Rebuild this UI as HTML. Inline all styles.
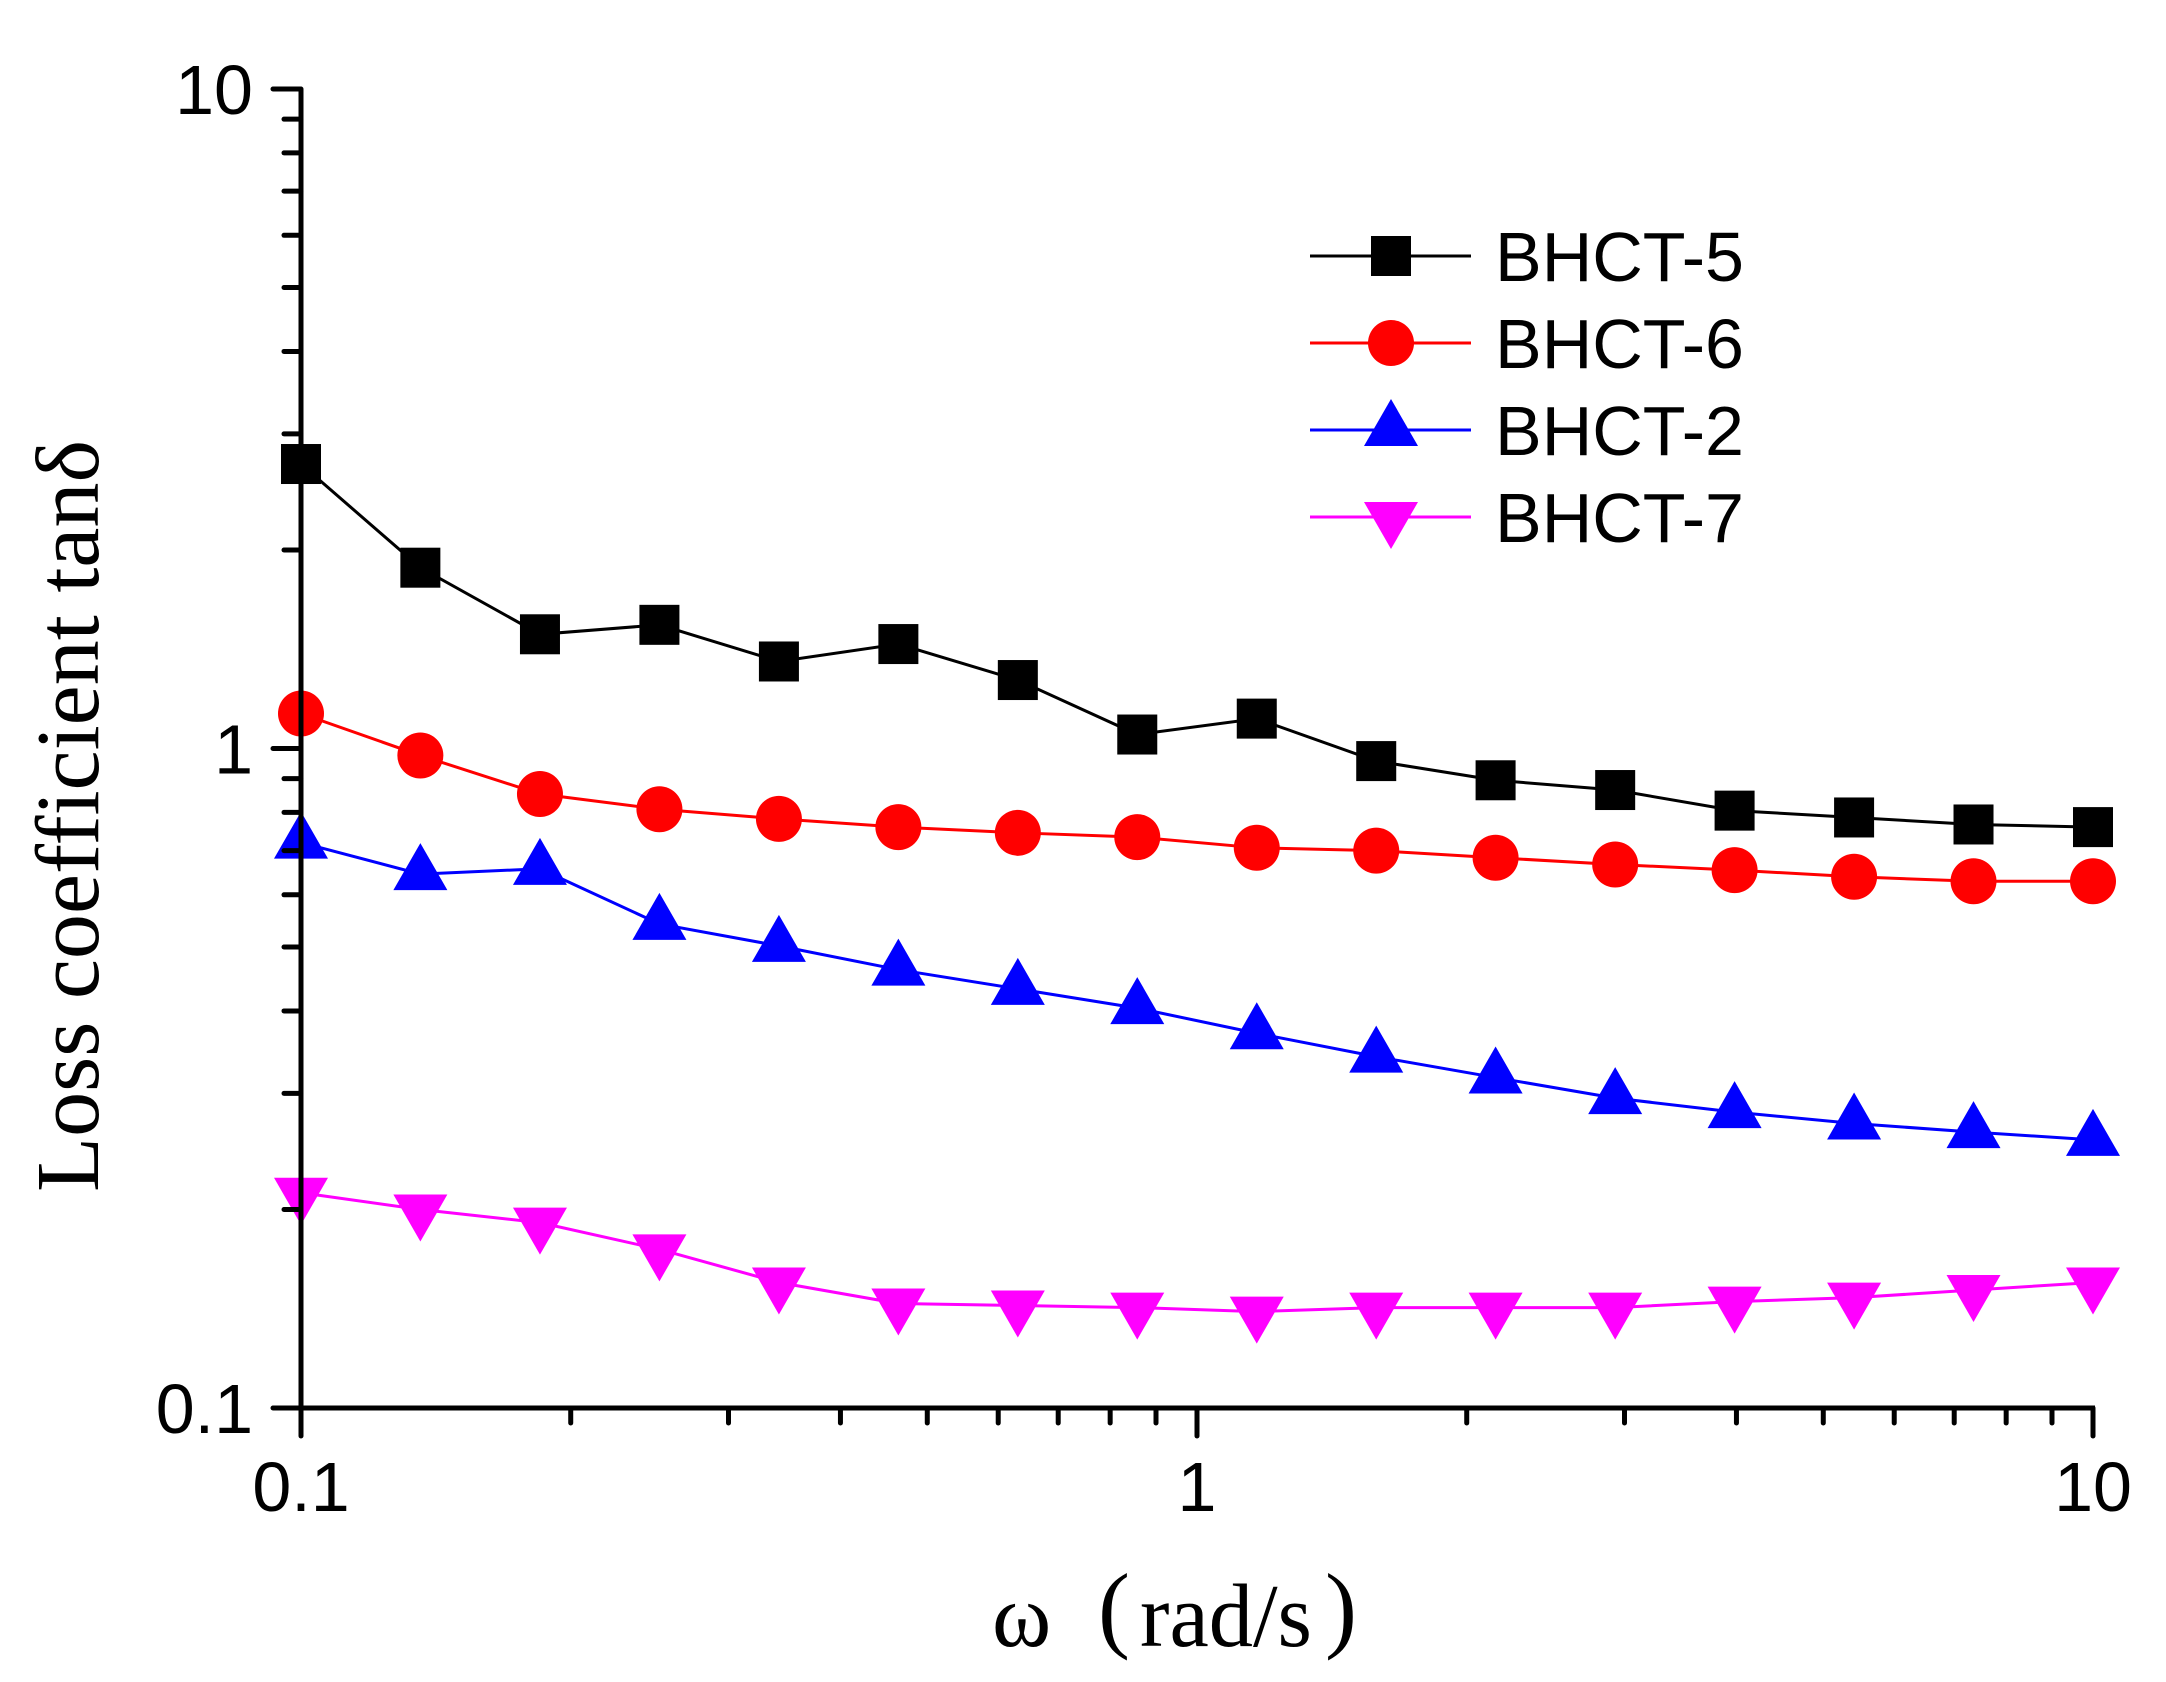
<!DOCTYPE html>
<html><head><meta charset="utf-8"><style>
html,body{margin:0;padding:0;background:#fff;}
svg{display:block;}
</style></head><body>
<svg id="chart" width="2166" height="1682" viewBox="0 0 2166 1682" xmlns="http://www.w3.org/2000/svg">
<rect width="2166" height="1682" fill="#fff"/>
<g id="series"></g>
<g id="axes"></g>
<text transform="translate(98,816) rotate(-90)" text-anchor="middle" font-family="Liberation Serif, serif" font-size="90" textLength="752" lengthAdjust="spacingAndGlyphs">Loss coefficient tanδ</text>
<g font-family="Liberation Serif, serif" font-size="90">
<text x="992" y="1646">ω</text>
<text x="1098" y="1640" font-size="96">(</text>
<text x="1140" y="1646" textLength="172" lengthAdjust="spacingAndGlyphs">rad/s</text>
<text x="1325" y="1640" font-size="96">)</text>
</g>
<g id="legend"></g>
</svg>
<script>
const omega = [0.1,0.1359,0.1848,0.2512,0.3415,0.4642,0.6310,0.8577,1.166,1.585,2.154,2.929,3.981,5.412,7.356,10];
const bhct5 = [2.70,1.88,1.49,1.54,1.355,1.44,1.27,1.05,1.11,0.957,0.895,0.865,0.805,0.786,0.767,0.76];
const bhct6 = [1.13,0.976,0.853,0.809,0.782,0.76,0.745,0.734,0.707,0.70,0.683,0.667,0.654,0.639,0.629,0.629];
const bhct2 = [0.72,0.645,0.657,0.542,0.502,0.462,0.432,0.404,0.37,0.341,0.317,0.295,0.281,0.27,0.262,0.255];
const bhct7 = [0.212,0.2,0.191,0.174,0.155,0.144,0.143,0.142,0.14,0.142,0.142,0.142,0.145,0.147,0.151,0.155];
const seriesNames = ["BHCT-5","BHCT-6","BHCT-2","BHCT-7"];
const xTickLabels = ["0.1","1","10"];
const yTickLabels = ["0.1","1","10"];

const NS="http://www.w3.org/2000/svg";
const X0=301,X1=2093,Y0=1408,Y1=89;
function xs(v){return X0+(Math.log10(v)+1)/2*(X1-X0);}
function ys(v){return Y0-(Math.log10(v)+1)/2*(Y0-Y1);}
function mk(tag,attrs,parent){const e=document.createElementNS(NS,tag);for(const k in attrs)e.setAttribute(k,attrs[k]);parent.appendChild(e);return e;}

const axes=document.getElementById('axes');
const sg=document.getElementById('series');
const lg=document.getElementById('legend');

for(let d=-1;d<=1;d++){
  for(let m=1;m<=9;m++){
    const v=m*Math.pow(10,d);
    if(v>10.0001)break;
    const major=(m===1);
    const x=xs(v);
    const t=mk('line',{x1:x,y1:Y0,x2:x,y2:Y0+(major?28:15),stroke:'#000','stroke-width':5,'stroke-linecap':'round'},axes);
    
    
    const y=ys(v);
    const t2=mk('line',{x1:X0,y1:y,x2:X0-(major?28:17),y2:y,stroke:'#000','stroke-width':5,'stroke-linecap':'round'},axes);
    
    
  }
}
const vx=mk('line',{x1:X0,y1:Y1,x2:X0,y2:Y0+2,stroke:'#000','stroke-width':5},axes);


const hx=mk('line',{x1:X0-2,y1:Y0,x2:X1+2,y2:Y0,stroke:'#000','stroke-width':5},axes);



xTickLabels.forEach(s=>{
  const t=mk('text',{x:xs(parseFloat(s)),y:1511,'text-anchor':'middle','font-family':'Liberation Sans, sans-serif','font-size':70},axes);
  t.textContent=s;
  
  
});
yTickLabels.forEach(s=>{
  const t=mk('text',{x:253,y:ys(parseFloat(s))+25,'text-anchor':'end','font-family':'Liberation Sans, sans-serif','font-size':70},axes);
  t.textContent=s;
  
  
});

const colors=['#000','#ff0000','#0000ff','#ff00ff'];
const shapes=['square','circle','up','down'];
const data=[bhct5,bhct6,bhct2,bhct7];

function marker(shape,cx,cy,col,parent){
  let e;
  if(shape==='square') e=mk('rect',{x:cx-20,y:cy-20,width:40,height:40,fill:col},parent);
  else if(shape==='circle') e=mk('circle',{cx:cx,cy:cy,r:23,fill:col},parent);
  else if(shape==='up') e=mk('polygon',{points:`${cx},${cy-31} ${cx-27},${cy+16} ${cx+27},${cy+16}`,fill:col},parent);
  else e=mk('polygon',{points:`${cx},${cy+32} ${cx-27},${cy-15} ${cx+27},${cy-15}`,fill:col},parent);
  return e;
}

data.forEach((arr,si)=>{
  const g=mk('g',{},sg);
  
  
  const pts=arr.map((v,i)=>xs(omega[i])+','+ys(v)).join(' ');
  const pl=mk('polyline',{points:pts,fill:'none',stroke:colors[si],'stroke-width':3},g);
  
  
  arr.forEach((v,i)=>{
    const m=marker(shapes[si],xs(omega[i]),ys(v),colors[si],g);
    
    
  });
  const ly=256+si*87;
  const lgE=mk('g',{},lg);
  
  
  mk('line',{x1:1310,y1:ly,x2:1471,y2:ly,stroke:colors[si],'stroke-width':3},lgE);
  marker(shapes[si],1391,ly,colors[si],lgE);
  const t=mk('text',{x:1495,y:ly+25,'font-family':'Liberation Sans, sans-serif','font-size':70},lgE);
  t.textContent=seriesNames[si];
});
</script>
</body></html>
